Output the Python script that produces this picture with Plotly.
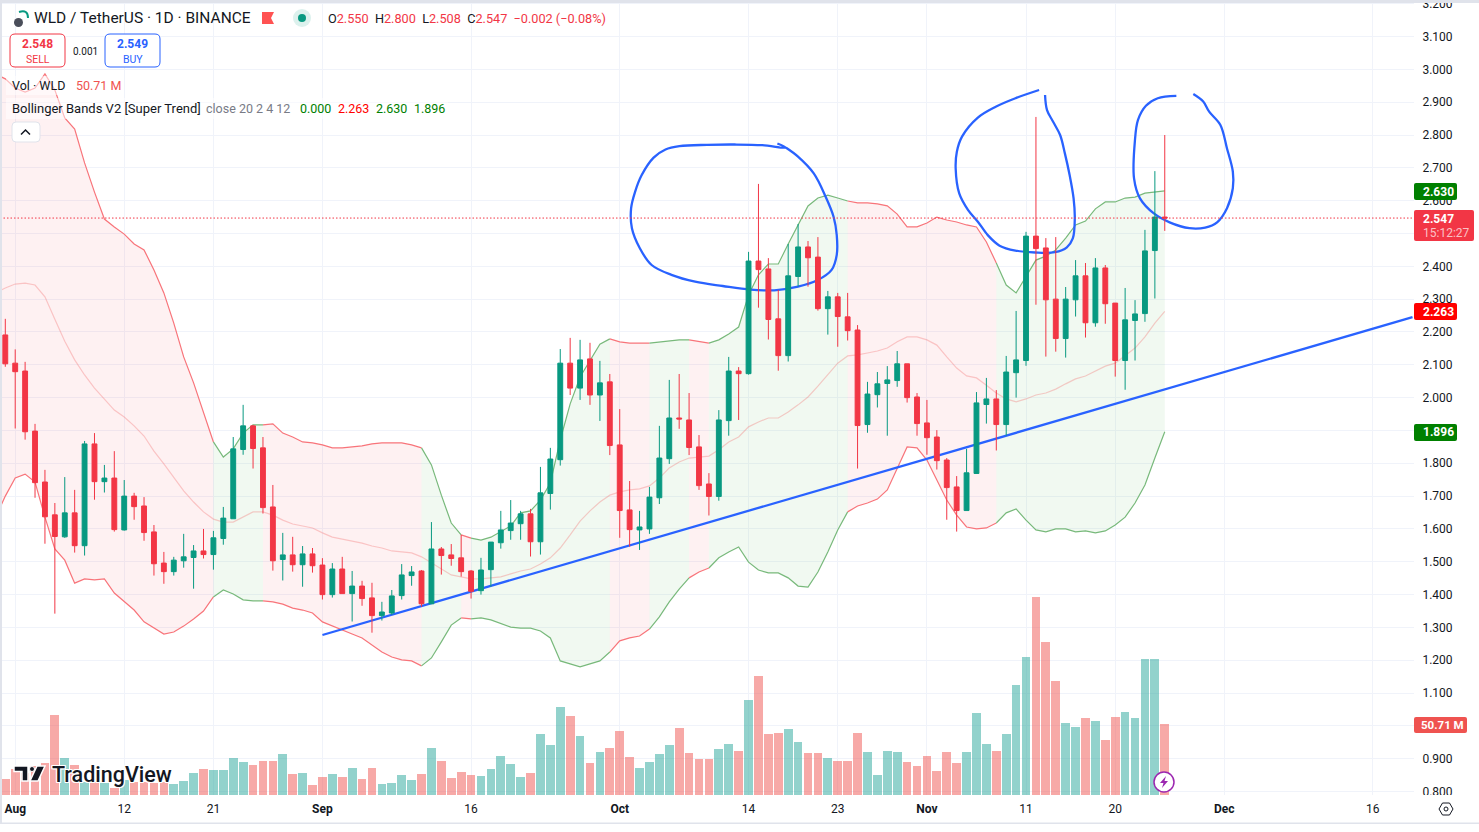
import plotly.graph_objects as go

W, H = 1479, 832
PLOT_RIGHT, PLOT_BOTTOM = 1414, 795

UP, DOWN = '#089981', '#F23645'
VOL_UP, VOL_DOWN = 'rgba(38,166,154,0.5)', 'rgba(239,83,80,0.5)'
BLUE = '#2962FF'
GRID = '#F0F3FA'
TEXT = '#131722'
FRAME = '#E0E3EB'

# one candle per day, bar 0 = 31 Jul
opens = [
    2.191, 2.105, 2.081, 1.898, 1.743, 1.643, 1.576, 1.649, 1.549, 1.859,
    1.744, 1.755, 1.597, 1.700, 1.670, 1.591, 1.496, 1.470, 1.503, 1.513,
    1.533, 1.522, 1.571, 1.631, 1.842, 1.914, 1.847, 1.667, 1.507, 1.521,
    1.491, 1.524, 1.490, 1.400, 1.478, 1.403, 1.426, 1.390, 1.336, 1.344,
    1.397, 1.458, 1.472, 1.372, 1.539, 1.521, 1.512, 1.472, 1.412, 1.476,
    1.558, 1.595, 1.616, 1.646, 1.561, 1.708, 1.811, 2.105, 2.029, 2.118,
    2.008, 2.048, 1.856, 1.658, 1.597, 1.600, 1.695, 1.814, 1.938, 1.932,
    1.850, 1.737, 1.699, 1.930, 2.081, 2.073, 2.416, 2.392, 2.240, 2.128,
    2.369, 2.459, 2.428, 2.271, 2.307, 2.246, 2.206, 1.918, 2.009, 2.043,
    2.052, 2.103, 2.002, 1.923, 1.880, 1.810, 1.728, 1.656, 1.769, 1.979,
    1.996, 1.918, 2.076, 2.113, 2.492, 2.456, 2.300, 2.180, 2.298, 2.371,
    2.228, 2.395, 2.288, 2.113, 2.235, 2.256, 2.448, 2.550,
]
highs = [
    2.240, 2.147, 2.109, 1.920, 1.780, 1.679, 1.758, 1.719, 1.868, 1.892,
    1.795, 1.837, 1.749, 1.710, 1.697, 1.612, 1.530, 1.515, 1.585, 1.551,
    1.600, 1.594, 1.667, 1.880, 1.978, 1.917, 1.880, 1.734, 1.588, 1.576,
    1.548, 1.542, 1.511, 1.496, 1.515, 1.472, 1.442, 1.436, 1.378, 1.414,
    1.493, 1.487, 1.475, 1.621, 1.545, 1.554, 1.582, 1.475, 1.512, 1.560,
    1.655, 1.688, 1.655, 1.661, 1.789, 1.847, 2.148, 2.182, 2.176, 2.167,
    2.112, 2.072, 1.965, 1.746, 1.655, 1.728, 1.914, 2.054, 2.072, 2.014,
    1.886, 1.770, 1.962, 2.124, 2.093, 2.444, 2.651, 2.425, 2.328, 2.468,
    2.529, 2.477, 2.489, 2.325, 2.319, 2.319, 2.221, 2.048, 2.078, 2.096,
    2.142, 2.103, 2.014, 1.993, 1.901, 1.816, 1.761, 1.844, 2.017, 2.060,
    2.023, 2.127, 2.264, 2.505, 2.855, 2.486, 2.489, 2.337, 2.419, 2.410,
    2.425, 2.404, 2.288, 2.334, 2.297, 2.511, 2.690, 2.800,
]
lows = [
    2.094, 1.906, 1.872, 1.695, 1.555, 1.342, 1.573, 1.528, 1.519, 1.689,
    1.711, 1.592, 1.595, 1.628, 1.564, 1.458, 1.433, 1.458, 1.482, 1.418,
    1.510, 1.476, 1.552, 1.631, 1.826, 1.784, 1.647, 1.473, 1.443, 1.470,
    1.424, 1.467, 1.385, 1.391, 1.403, 1.318, 1.366, 1.284, 1.321, 1.338,
    1.385, 1.427, 1.363, 1.372, 1.461, 1.488, 1.455, 1.388, 1.400, 1.424,
    1.540, 1.567, 1.567, 1.516, 1.522, 1.659, 1.793, 2.008, 1.993, 1.978,
    1.929, 1.825, 1.573, 1.546, 1.536, 1.585, 1.676, 1.798, 1.905, 1.825,
    1.719, 1.641, 1.686, 1.884, 1.932, 2.070, 2.274, 2.177, 2.082, 2.110,
    2.338, 2.338, 2.265, 2.192, 2.155, 2.174, 1.784, 1.893, 1.970, 1.884,
    2.033, 1.985, 1.884, 1.826, 1.781, 1.628, 1.592, 1.656, 1.769, 1.921,
    1.839, 1.884, 2.000, 2.097, 2.283, 2.125, 2.140, 2.122, 2.247, 2.183,
    2.216, 2.225, 2.064, 2.024, 2.113, 2.231, 2.302, 2.508,
]
closes = [
    2.103, 2.079, 1.896, 1.741, 1.637, 1.577, 1.649, 1.549, 1.859, 1.744,
    1.755, 1.598, 1.700, 1.668, 1.589, 1.494, 1.470, 1.505, 1.515, 1.533,
    1.522, 1.573, 1.633, 1.844, 1.914, 1.845, 1.665, 1.503, 1.521, 1.491,
    1.524, 1.488, 1.400, 1.478, 1.403, 1.426, 1.388, 1.336, 1.347, 1.396,
    1.460, 1.469, 1.372, 1.539, 1.519, 1.510, 1.470, 1.410, 1.475, 1.560,
    1.597, 1.618, 1.646, 1.561, 1.710, 1.813, 2.105, 2.029, 2.115, 2.008,
    2.045, 1.854, 1.656, 1.598, 1.606, 1.697, 1.816, 1.938, 1.935, 1.848,
    1.732, 1.699, 1.932, 2.081, 2.073, 2.416, 2.390, 2.238, 2.128, 2.371,
    2.459, 2.426, 2.271, 2.307, 2.247, 2.204, 1.915, 2.011, 2.042, 2.054,
    2.103, 2.000, 1.921, 1.878, 1.808, 1.726, 1.656, 1.771, 1.984, 1.996,
    1.918, 2.078, 2.115, 2.492, 2.454, 2.298, 2.180, 2.300, 2.371, 2.228,
    2.395, 2.286, 2.113, 2.237, 2.255, 2.447, 2.550, 2.547,
]
volumes = [
    11.4, 18.6, 15.5, 20.7, 22.6, 57.1, 26.4, 21.4, 9.0, 9.0,
    8.8, 5.2, 10.7, 9.0, 9.0, 8.3, 9.0, 7.9, 10.0, 15.7,
    18.6, 17.9, 17.9, 26.4, 23.6, 21.4, 24.3, 24.3, 29.3, 15.0,
    15.7, 7.1, 12.9, 15.0, 12.9, 19.3, 11.4, 19.3, 7.9, 8.6,
    14.3, 10.7, 15.0, 33.6, 24.3, 12.1, 16.4, 14.3, 13.6, 18.6,
    27.8, 22.1, 12.9, 15.7, 43.6, 35.7, 62.8, 56.4, 42.1, 22.8,
    30.7, 33.6, 45.7, 27.1, 19.3, 23.6, 29.3, 35.7, 47.8, 30.0,
    25.7, 25.7, 32.8, 36.4, 31.4, 67.8, 85.0, 43.6, 44.3, 47.1,
    37.8, 30.0, 30.0, 26.4, 24.3, 24.3, 44.3, 30.7, 14.3, 31.4,
    30.7, 23.6, 20.7, 27.8, 17.1, 30.7, 22.8, 30.7, 58.5, 36.4,
    31.4, 43.6, 78.5, 98.5, 141.4, 109.2, 81.4, 51.4, 48.6, 55.0,
    52.8, 39.3, 55.7, 59.3, 55.0, 97.1, 97.1, 50.71,
]
# bands start one bar earlier, that bar is off screen to the left
band_upper = [
    2.986, 2.971, 2.943, 2.931, 2.943, 2.986, 2.937, 2.852, 2.818, 2.715, 2.626,
    2.544, 2.520, 2.498, 2.468, 2.450, 2.389, 2.319, 2.227, 2.124, 2.045,
    1.953, 1.865, 1.819, 1.844, 1.892, 1.917, 1.917, 1.920, 1.892, 1.880,
    1.865, 1.862, 1.856, 1.847, 1.847, 1.850, 1.853, 1.859, 1.862, 1.862,
    1.862, 1.856, 1.847, 1.795, 1.703, 1.618, 1.582, 1.572, 1.566, 1.575,
    1.591, 1.609, 1.649, 1.655, 1.688, 1.740, 1.871, 1.981, 2.063, 2.115,
    2.163, 2.179, 2.170, 2.166, 2.166, 2.166, 2.170, 2.172, 2.176, 2.176,
    2.170, 2.166, 2.176, 2.194, 2.215, 2.313, 2.374, 2.407, 2.407, 2.468,
    2.526, 2.584, 2.608, 2.617, 2.608, 2.599, 2.593, 2.593, 2.590, 2.584,
    2.559, 2.520, 2.520, 2.532, 2.550, 2.541, 2.535, 2.526, 2.520, 2.474,
    2.410, 2.343, 2.319, 2.367, 2.419, 2.431, 2.450, 2.486, 2.526, 2.538,
    2.575, 2.596, 2.596, 2.608, 2.611, 2.623, 2.626, 2.630,
]
band_mid = [
    2.319, 2.334, 2.346, 2.349, 2.343, 2.307, 2.239, 2.172, 2.115, 2.069, 2.029,
    1.996, 1.962, 1.941, 1.914, 1.883, 1.837, 1.798, 1.755, 1.716, 1.682,
    1.652, 1.630, 1.621, 1.621, 1.636, 1.652, 1.652, 1.642, 1.627, 1.615,
    1.609, 1.603, 1.588, 1.575, 1.569, 1.563, 1.557, 1.548, 1.542, 1.533,
    1.530, 1.527, 1.515, 1.496, 1.478, 1.460, 1.454, 1.448, 1.448, 1.451,
    1.454, 1.463, 1.472, 1.478, 1.493, 1.512, 1.542, 1.582, 1.624, 1.655,
    1.682, 1.703, 1.713, 1.719, 1.722, 1.731, 1.755, 1.786, 1.804, 1.816,
    1.819, 1.822, 1.841, 1.865, 1.880, 1.911, 1.926, 1.938, 1.938, 1.956,
    1.978, 2.002, 2.035, 2.069, 2.105, 2.127, 2.130, 2.136, 2.142, 2.151,
    2.170, 2.185, 2.185, 2.176, 2.160, 2.124, 2.090, 2.066, 2.060, 2.038,
    2.014, 1.996, 1.987, 1.996, 2.008, 2.014, 2.026, 2.042, 2.057, 2.066,
    2.081, 2.096, 2.105, 2.127, 2.151, 2.185, 2.227, 2.263,
]
band_lower = [
    1.634, 1.700, 1.755, 1.767, 1.743, 1.636, 1.539, 1.505, 1.435, 1.448, 1.445,
    1.448, 1.405, 1.378, 1.353, 1.317, 1.298, 1.280, 1.286, 1.304, 1.326,
    1.350, 1.393, 1.414, 1.402, 1.384, 1.381, 1.381, 1.378, 1.371, 1.359,
    1.353, 1.344, 1.317, 1.304, 1.292, 1.280, 1.268, 1.246, 1.225, 1.210,
    1.201, 1.198, 1.183, 1.207, 1.256, 1.307, 1.329, 1.326, 1.329, 1.323,
    1.313, 1.301, 1.298, 1.298, 1.289, 1.268, 1.198, 1.189, 1.180, 1.189,
    1.198, 1.225, 1.259, 1.268, 1.274, 1.295, 1.332, 1.378, 1.417, 1.451,
    1.469, 1.481, 1.512, 1.530, 1.545, 1.499, 1.475, 1.466, 1.466, 1.451,
    1.426, 1.423, 1.469, 1.530, 1.597, 1.652, 1.670, 1.679, 1.691, 1.719,
    1.786, 1.850, 1.847, 1.810, 1.749, 1.688, 1.642, 1.606, 1.600, 1.603,
    1.618, 1.649, 1.661, 1.627, 1.597, 1.591, 1.600, 1.600, 1.591, 1.594,
    1.588, 1.594, 1.612, 1.636, 1.679, 1.734, 1.816, 1.896,
]
# where the Super Trend state flips (first bar, last bar, state)
band_states = [
    (-1, 21, 'down'), (21, 26, 'up'), (26, 42, 'down'), (42, 46, 'up'),
    (46, 47, 'down'), (47, 61, 'up'), (61, 65, 'down'), (65, 69, 'up'),
    (69, 71, 'down'), (71, 85, 'up'), (85, 100, 'down'), (100, 117, 'up'),
]

tick_bars = [1, 12, 21, 32, 47, 62, 75, 84, 93, 103, 112, 123, 138]
tick_labels = ['<b>Aug</b>', '12', '21', '<b>Sep</b>', '16', '<b>Oct</b>', '14', '23',
               '<b>Nov</b>', '11', '20', '<b>Dec</b>', '16']

# hand drawn stuff on the chart (bar, price)
trend_bars = [32, 142]
trend_prices = [1.277, 2.245]
circle1_bars = [77.91, 78.79, 76.39, 73.60, 70.81, 68.02, 66.62, 65.42, 64.22, 63.55, 63.15, 63.23,
                64.03, 65.22, 67.22, 69.61, 72.40, 75.20, 77.59, 79.99, 81.98, 83.38, 83.90, 83.90,
                83.58, 82.78, 81.58, 79.99, 78.79]
circle1_prices = [2.774, 2.761, 2.769, 2.771, 2.770, 2.766, 2.756, 2.731, 2.678, 2.627, 2.577, 2.516,
                  2.455, 2.404, 2.374, 2.353, 2.340, 2.329, 2.327, 2.338, 2.358, 2.389, 2.435, 2.495,
                  2.551, 2.612, 2.683, 2.734, 2.761]
circle2_bars = [104.32, 101.93, 99.94, 98.14, 96.54, 96.02, 95.90, 96.26, 97.14, 98.14, 99.14, 100.33,
                101.93, 103.93, 105.92, 107.12, 107.72, 107.92, 107.80, 107.40, 106.92, 106.44,
                105.72, 105.12, 104.92]
circle2_prices = [2.937, 2.912, 2.886, 2.853, 2.795, 2.749, 2.698, 2.622, 2.572, 2.536, 2.495, 2.463,
                  2.448, 2.442, 2.443, 2.458, 2.485, 2.546, 2.607, 2.678, 2.744, 2.800,
                  2.841, 2.876, 2.922]
circle3_bars = [118.17, 116.29, 115.10, 114.30, 113.98, 113.90, 114.50, 115.90, 117.49, 119.49, 121.08,
                122.28, 123.28, 123.87, 123.87, 123.28, 122.60, 121.48, 120.88, 119.88]
circle3_prices = [2.919, 2.912, 2.889, 2.846, 2.780, 2.668, 2.607, 2.561, 2.534, 2.516, 2.518,
                  2.534, 2.577, 2.638, 2.688, 2.759, 2.831, 2.871, 2.902, 2.925]

last_price = 2.547
bars = list(range(len(closes)))
band_bars = [-1] + bars


def px(x):
    return x / W


def py(y):
    return 1 - y / H


def rrect(x0, y0, x1, y1, r):
    # rounded box as svg path, in paper coordinates
    rx, ry = r / W, r / H
    a, b, c, d = px(x0), px(x1), py(y0), py(y1)
    return (f'M{a + rx},{c} L{b - rx},{c} Q{b},{c} {b},{c - ry} L{b},{d + ry} Q{b},{d} {b - rx},{d} '
            f'L{a + rx},{d} Q{a},{d} {a},{d + ry} L{a},{c - ry} Q{a},{c} {a + rx},{c} Z')


def poly(points):
    return 'M' + ' L'.join(f'{px(x)},{py(y)}' for x, y in points) + ' Z'


def box(x0, y0, x1, y1, color, r=2, line=None, layer='above', width=1):
    return dict(type='path', xref='paper', yref='paper', path=rrect(x0, y0, x1, y1, r), fillcolor=color,
                line=dict(color=line or color, width=width if line else 0), layer=layer)


def label(x, y, text, size=12, color=TEXT, anchor='left', **font):
    return dict(xref='paper', yref='paper', x=px(x), y=py(y), text=text, showarrow=False, xanchor=anchor,
                yanchor='middle', borderpad=0, font=dict(family='Roboto', size=size, color=color, **font))


fig = go.Figure()

fig.add_trace(go.Bar(
    x=bars, y=volumes, width=0.88, yaxis='y', showlegend=False,
    marker=dict(color=[VOL_UP if c >= o else VOL_DOWN for o, c in zip(opens, closes)], line_width=0),
))

for first, last, state in band_states:
    seg = slice(first + 1, last + 2)
    line_color = '#78B97B' if state == 'up' else '#F8747A'
    fill_color = 'rgba(76,175,80,0.08)' if state == 'up' else 'rgba(242,54,69,0.07)'
    fig.add_trace(go.Scatter(x=band_bars[seg], y=band_upper[seg], yaxis='y2', mode='lines', showlegend=False,
                             line=dict(color=line_color, width=1.2)))
    fig.add_trace(go.Scatter(x=band_bars[seg], y=band_lower[seg], yaxis='y2', mode='lines', showlegend=False,
                             line=dict(color=line_color, width=1.2), fill='tonexty', fillcolor=fill_color))
fig.add_trace(go.Scatter(x=band_bars, y=band_mid, yaxis='y2', mode='lines', showlegend=False,
                         line=dict(color='rgba(242,100,100,0.32)', width=1.2)))

for xs, ys in [(trend_bars, trend_prices), (circle1_bars, circle1_prices),
               (circle2_bars, circle2_prices), (circle3_bars, circle3_prices)]:
    fig.add_trace(go.Scatter(x=xs, y=ys, yaxis='y2', mode='lines', showlegend=False,
                             line=dict(color=BLUE, width=2.3, shape='spline' if len(xs) > 2 else 'linear')))

fig.add_trace(go.Candlestick(
    x=bars, open=opens, high=highs, low=lows, close=closes, yaxis='y3', showlegend=False, whiskerwidth=0,
    increasing=dict(line=dict(color=UP, width=1), fillcolor=UP),
    decreasing=dict(line=dict(color=DOWN, width=1), fillcolor=DOWN),
))

shapes = [
    # last price line
    dict(type='line', xref='paper', yref='y3', x0=0, x1=px(PLOT_RIGHT), y0=last_price, y1=last_price,
         line=dict(color=DOWN, width=1, dash='1.5px,2px')),
    # legend backdrop washes out what runs under it
    dict(type='rect', xref='paper', yref='paper', x0=px(6), x1=px(122), y0=py(95), y1=py(76),
         fillcolor='rgba(255,255,255,0.5)', line_width=0),
    dict(type='rect', xref='paper', yref='paper', x0=px(6), x1=px(448), y0=py(119), y1=py(98),
         fillcolor='rgba(255,255,255,0.5)', line_width=0),
    # price axis clipped at the pane ends
    dict(type='rect', xref='paper', yref='paper', x0=px(PLOT_RIGHT), x1=1, y0=py(823), y1=py(PLOT_BOTTOM),
         fillcolor='white', line_width=0),
    # window frame
    dict(type='rect', xref='paper', yref='paper', x0=0, x1=1, y0=py(3), y1=1, fillcolor=FRAME, line_width=0),
    dict(type='rect', xref='paper', yref='paper', x0=0, x1=px(2), y0=py(823), y1=1, fillcolor=FRAME, line_width=0),
    dict(type='rect', xref='paper', yref='paper', x0=0, x1=1, y0=py(824), y1=py(822.5), fillcolor=FRAME, line_width=0),
    # price tags
    box(PLOT_RIGHT, 183, 1457, 200, '#008000'),
    box(PLOT_RIGHT, 210, 1474, 241, DOWN),
    box(PLOT_RIGHT, 303, 1457, 320, '#FF0000'),
    box(PLOT_RIGHT, 424, 1457, 441, '#008000'),
    box(PLOT_RIGHT, 717, 1467, 733, '#EF5350'),
    # sell / buy / collapse buttons
    box(10, 34, 65, 67, 'white', r=5, line=DOWN),
    box(105, 34, 160, 67, 'white', r=5, line=BLUE),
    box(12, 122, 40, 142, 'white', r=4, line=FRAME),
    dict(type='path', xref='paper', yref='paper', line=dict(color=TEXT, width=1.5), layer='above',
         path=f'M{px(21)},{py(134.5)} L{px(25.5)},{py(130)} L{px(30)},{py(134.5)}'),
    # header icons
    dict(type='circle', xref='paper', yref='paper', x0=px(14), x1=px(23), y0=py(27), y1=py(18),
         fillcolor='#4A4E5A', line_width=0),
    dict(type='path', xref='paper', yref='paper', line=dict(color='#089981', width=2), layer='above',
         path=f'M{px(19)},{py(12)} Q{px(28)},{py(9)} {px(28)},{py(18)}'),
    dict(type='path', xref='paper', yref='paper', fillcolor='#FF5252', line_width=0, layer='above',
         path=poly([(262, 12), (274, 12), (271, 18), (274, 24), (262, 24)])),
    dict(type='circle', xref='paper', yref='paper', x0=px(293), x1=px(311), y0=py(27), y1=py(9),
         fillcolor='rgba(8,153,129,0.14)', line_width=0),
    dict(type='circle', xref='paper', yref='paper', x0=px(298), x1=px(306), y0=py(22), y1=py(14),
         fillcolor='#089981', line_width=0),
    # TradingView mark
    dict(type='path', xref='paper', yref='paper', fillcolor='#131722', layer='above',
         line=dict(color='white', width=1.5),
         path=poly([(14, 766), (28, 766), (28, 781), (22, 781), (22, 771.5), (14, 771.5)])),
    dict(type='circle', xref='paper', yref='paper', x0=px(29.5), x1=px(34.5), y0=py(771.5), y1=py(766.5),
         fillcolor='#131722', layer='above', line=dict(color='white', width=1)),
    dict(type='path', xref='paper', yref='paper', fillcolor='#131722', layer='above',
         line=dict(color='white', width=1.5),
         path=poly([(37, 766), (45, 766), (38, 781), (30, 781)])),
    # bolt badge at the last bar
    dict(type='circle', xref='paper', yref='paper', x0=px(1154), x1=px(1174), y0=py(792), y1=py(772),
         fillcolor='white', layer='above', line=dict(color='#9C27B0', width=1.5)),
    dict(type='path', xref='paper', yref='paper', fillcolor='#9C27B0', line_width=0, layer='above',
         path=poly([(1166, 776), (1160, 783), (1163.5, 783), (1162, 788), (1168, 781), (1164.5, 781)])),
    # settings hexagon
    dict(type='path', xref='paper', yref='paper', line=dict(color=TEXT, width=1), layer='above',
         path=poly([(1439, 809), (1442.5, 803), (1449.5, 803), (1453, 809), (1449.5, 815), (1442.5, 815)])),
    dict(type='circle', xref='paper', yref='paper', x0=px(1444), x1=px(1448), y0=py(811), y1=py(807),
         line=dict(color=TEXT, width=1)),
]

halo = '1px 0 0 #fff, -1px 0 0 #fff, 0 1px 0 #fff, 0 -1px 0 #fff, 1px 1px 0 #fff, -1px -1px 0 #fff, 1px -1px 0 #fff, -1px 1px 0 #fff'
annotations = [
    label(33, 18, 'WLD / TetherUS · 1D · BINANCE', size=15.5),
    label(327, 18, f'O<span style="color:{DOWN}">2.550</span> &nbsp;H<span style="color:{DOWN}">2.800</span> &nbsp;'
                   f'L<span style="color:{DOWN}">2.508</span> &nbsp;C<span style="color:{DOWN}">2.547</span> &nbsp;'
                   f'<span style="color:{DOWN}">−0.002 (−0.08%)</span>', size=12.7),
    label(37.5, 44.5, '<b>2.548</b>', size=12, color=DOWN, anchor='center'),
    label(37.5, 59, 'SELL', size=10.5, color=DOWN, anchor='center'),
    label(85, 51.5, '0.001', size=10, anchor='center'),
    label(132.5, 44.5, '<b>2.549</b>', size=12, color=BLUE, anchor='center'),
    label(132.5, 59, 'BUY', size=10.5, color=BLUE, anchor='center'),
    label(11, 85, 'Vol · WLD', size=12.5),
    label(75, 85, '50.71 M', size=12.5, color='#EF5350'),
    label(11, 108.5, 'Bollinger Bands V2 [Super Trend]', size=13),
    label(205, 108.5, 'close 20 2 4 12', size=12.5, color='#787B86'),
    label(299, 108.5, '0.000', size=12.5, color='#008000'),
    label(337, 108.5, '2.263', size=12.5, color='#FF0000'),
    label(375, 108.5, '2.630', size=12.5, color='#008000'),
    label(413, 108.5, '1.896', size=12.5, color='#008000'),
    label(1422, 192, '<b>2.630</b>', color='white'),
    label(1422, 218.5, '<b>2.547</b>', color='white'),
    label(1422, 233, '15:12:27', color='rgba(255,255,255,0.7)'),
    label(1422, 311.5, '<b>2.263</b>', color='white'),
    label(1422, 432.5, '<b>1.896</b>', color='white'),
    label(1420, 725, '<b>50.71 M</b>', size=11.5, color='white'),
    label(51, 774, 'TradingView', size=21.5, color='#131722', weight=500, shadow=halo),
]

y_range = [0.7896, 3.2112]
domain = [1 - PLOT_BOTTOM / H, 1]

fig.update_layout(
    width=W, height=H, margin=dict(l=0, r=0, t=0, b=0, autoexpand=False),
    paper_bgcolor='white', plot_bgcolor='white', showlegend=False, hovermode=False,
    font=dict(family='Roboto', size=12, color=TEXT), shapes=shapes, annotations=annotations,
    bargap=0,
    xaxis=dict(domain=[0, PLOT_RIGHT / W], range=[-0.535, 142.15], tickmode='array', tickvals=tick_bars,
               ticktext=tick_labels, showgrid=True, gridcolor=GRID, gridwidth=1, zeroline=False, showline=False,
               ticks='outside', ticklen=3, tickcolor='rgba(0,0,0,0)', rangeslider=dict(visible=False),
               tickfont=dict(size=12, color=TEXT), anchor='y', fixedrange=True),
    # volume sits at the bottom on its own scale
    yaxis=dict(domain=domain, range=[0, 567.6], visible=False, fixedrange=True),
    yaxis2=dict(domain=domain, range=y_range, overlaying='y', visible=False, fixedrange=True),
    yaxis3=dict(domain=domain, range=y_range, overlaying='y', anchor='x', side='right', tick0=0.8, dtick=0.1,
                tickformat='.3f', showgrid=True, gridcolor=GRID, gridwidth=1, zeroline=False, showline=False,
                ticks='outside', ticklen=5, tickcolor='rgba(0,0,0,0)', tickfont=dict(size=12, color=TEXT),
                ticklabeloverflow='allow', fixedrange=True),
)

fig.write_html('out.html', config=dict(displayModeBar=False),
               post_script="document.body.style.margin='0';document.documentElement.style.overflow='hidden';")
